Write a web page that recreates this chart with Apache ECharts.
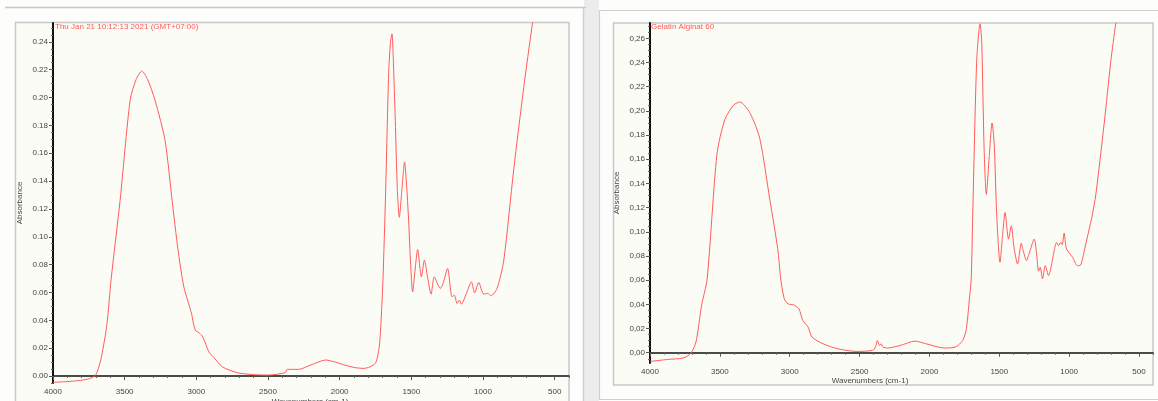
<!DOCTYPE html>
<html>
<head>
<meta charset="utf-8">
<script src="https://cdn.jsdelivr.net/npm/echarts@6/dist/echarts.min.js"></script>
<style>html,body{margin:0;padding:0;background:#fdfdfb;}#c{width:1158px;height:401px;}</style>
</head>
<body>
<div id="c"></div>
<script>
// ---- Left spectrum ----
const leftWave = [4000,3900,3800,3750,3702,3662,3623,3595,3532,3462,3420,3380,3340,3288,3218,3169,3127,3087,3034,3008,2980,2954,2913,2874,2820,2713,2600,2499,2380,2366,2286,2200,2098,2030,1965,1890,1831,1752,1724,1711,1698,1680,1658,1645,1635,1625,1612,1598,1584,1565,1547,1535,1519,1505,1491,1475,1456,1430,1409,1385,1362,1340,1298,1279,1247,1216,1200,1181,1165,1151,1116,1081,1058,1030,995,967,944,902,855,786,716,657,600,500];
const leftAbs = [-0.0045,-0.004,-0.003,-0.002,0.0007,0.0138,0.038,0.069,0.126,0.198,0.213,0.219,0.213,0.198,0.169,0.126,0.09,0.064,0.045,0.033,0.031,0.028,0.0174,0.0129,0.0067,0.0024,0.001,0.0007,0.0024,0.0048,0.0048,0.008,0.0115,0.01,0.0079,0.006,0.0055,0.009,0.021,0.04,0.069,0.13,0.218,0.24,0.2457,0.225,0.1836,0.135,0.114,0.135,0.1537,0.14,0.112,0.08,0.0604,0.075,0.0908,0.0712,0.0832,0.07,0.0588,0.0712,0.0629,0.0665,0.0772,0.0569,0.0581,0.0521,0.0545,0.0516,0.0593,0.0676,0.0597,0.0672,0.0588,0.0593,0.0576,0.0629,0.0832,0.148,0.207,0.2517,0.29,0.35];

// ---- Right spectrum ----
const rightWave = [4000,3868,3764,3710,3671,3631,3591,3521,3464,3400,3357,3286,3214,3143,3086,3064,3039,3012,2973,2934,2907,2868,2841,2762,2657,2525,2407,2386,2373,2357,2346,2333,2301,2209,2104,2025,1893,1814,1762,1736,1714,1701,1690,1662,1638,1626,1609,1593,1571,1552,1536,1519,1495,1476,1459,1434,1414,1395,1369,1343,1329,1305,1286,1250,1233,1219,1207,1191,1171,1148,1107,1091,1076,1059,1050,1036,1019,976,941,917,881,838,809,750,702,667,620,550];
const rightAbs = [-0.0072,-0.0055,-0.0044,-0.0008,0.0088,0.039,0.061,0.164,0.193,0.205,0.2073,0.1986,0.177,0.127,0.086,0.061,0.0446,0.0404,0.0396,0.0363,0.0267,0.0212,0.013,0.0074,0.0033,0.0011,0.0019,0.0047,0.0101,0.006,0.0074,0.0047,0.0039,0.006,0.0096,0.0074,0.0039,0.0047,0.0101,0.0198,0.0446,0.061,0.115,0.241,0.272,0.258,0.170,0.131,0.164,0.190,0.172,0.115,0.0748,0.098,0.116,0.094,0.105,0.0872,0.0734,0.0905,0.0844,0.0762,0.0822,0.094,0.0817,0.0674,0.0707,0.061,0.072,0.0638,0.0844,0.0913,0.0885,0.0913,0.0893,0.099,0.0858,0.079,0.072,0.0726,0.090,0.112,0.131,0.189,0.241,0.272,0.31,0.36];

// ---- Tick labels ----
const xLabels = [4000,3500,3000,2500,2000,1500,1000,500];
const yLabelsLeft = [0,0.02,0.04,0.06,0.08,0.10,0.12,0.14,0.16,0.18,0.20,0.22,0.24];
const yLabelsRight = [0,0.02,0.04,0.06,0.08,0.10,0.12,0.14,0.16,0.18,0.20,0.22,0.24,0.26];
const leftTitle = 'Thu Jan 21 10:12:13 2021 (GMT+07:00)';
const rightTitle = 'Gelatin Alginat 60';
const xName = 'Wavenumbers (cm-1)';
const yName = 'Absorbance';

const FONT = 'Liberation Sans';
const RED = '#ff5a5a';

function minorTicks(lo, hi, step) {
  const out = [];
  const n0 = Math.ceil(lo / step - 1e-9), n1 = Math.floor(hi / step + 1e-9);
  for (let i = n0; i <= n1; i++) out.push(+(i * step).toFixed(6));
  return out;
}

const L = {min: -0.005, max: 0.2535};
const R = {min: -0.0085, max: 0.2727};

function xAxes(gi) {
  return [
    {gridIndex: gi, type: 'value', inverse: true, min: 400, max: 4000, interval: 100,
     axisLine: {show: true, lineStyle: {color: '#111', width: 1.5}},
     axisTick: {show: true, length: 2, lineStyle: {color: '#666'}},
     axisLabel: {customValues: xLabels, fontSize: 8, color: '#444', fontFamily: FONT, margin: 5,
                 formatter: v => String(Math.round(v))},
     splitLine: {show: false}},
    {gridIndex: gi, type: 'value', inverse: true, min: 400, max: 4000, position: 'bottom',
     axisLine: {show: false},
     axisTick: {show: true, length: 4, customValues: xLabels, lineStyle: {color: '#555'}},
     axisLabel: {show: false}, splitLine: {show: false}}
  ];
}
function yAxes(gi, rng, labels, comma) {
  return [
    {gridIndex: gi, type: 'value', min: rng.min, max: rng.max,
     axisLine: {show: true, lineStyle: {color: '#111', width: 2}},
     axisTick: {show: true, length: 2, customValues: minorTicks(rng.min, rng.max, 0.005), lineStyle: {color: '#666'}},
     axisLabel: {customValues: labels, fontSize: 8, color: '#444', fontFamily: FONT, margin: 5,
                 formatter: v => { const s = Math.abs(v) < 1e-9 ? '0.00' : v.toFixed(2); return comma ? s.replace('.', ',') : s; }},
     splitLine: {show: false}},
    {gridIndex: gi, type: 'value', min: rng.min, max: rng.max, position: 'left',
     axisLine: {show: false},
     axisTick: {show: true, length: 4, customValues: labels, lineStyle: {color: '#555'}},
     axisLabel: {show: false}, splitLine: {show: false}}
  ];
}

const chart = echarts.init(document.getElementById('c'), null, {renderer: 'canvas'});
const option = {
  backgroundColor: '#fdfdfb',
  animation: false,
  graphic: [
    {type: 'rect', z: -10, shape: {x: 584, y: 0, width: 15, height: 401}, style: {fill: '#ececec'}},
    {type: 'line', z: -5, shape: {x1: 5, y1: 7.5, x2: 586, y2: 7.5}, style: {stroke: '#c8c8c8', lineWidth: 1.5}},
    {type: 'line', z: -5, shape: {x1: 583.5, y1: 7.5, x2: 583.5, y2: 401}, style: {stroke: '#d0d0d0', lineWidth: 1.5}},
    {type: 'rect', z: -6, shape: {x: 15.5, y: 22.5, width: 553.5, height: 400}, style: {fill: '#fcfcf6', stroke: '#c8c8c8', lineWidth: 1.5}},
    {type: 'rect', z: -7, shape: {x: 599.5, y: 10.5, width: 600, height: 389}, style: {fill: '#fdfdfb', stroke: '#cfcfcf', lineWidth: 1.2}},
    {type: 'rect', z: -6, shape: {x: 613.5, y: 23, width: 539.5, height: 362}, style: {fill: '#fcfcf6', stroke: '#c8c8c8', lineWidth: 1.5}},
    {type: 'text', z: 10, x: 55, y: 27, style: {text: leftTitle, fill: RED, font: '8px ' + FONT, verticalAlign: 'middle'}},
    {type: 'text', z: 10, x: 651, y: 27, style: {text: rightTitle, fill: RED, font: '8px ' + FONT, verticalAlign: 'middle'}},
    {type: 'text', z: 10, x: 20, y: 203, rotation: Math.PI / 2, style: {text: yName, fill: '#444', font: '8px ' + FONT, align: 'center', verticalAlign: 'middle'}},
    {type: 'text', z: 10, x: 617, y: 193, rotation: Math.PI / 2, style: {text: yName, fill: '#444', font: '8px ' + FONT, align: 'center', verticalAlign: 'middle'}},
    {type: 'text', z: 10, x: 870, y: 381, style: {text: xName, fill: '#444', font: '8px ' + FONT, align: 'center', verticalAlign: 'middle'}},
    {type: 'text', z: 10, x: 310, y: 402, style: {text: xName, fill: '#444', font: '8px ' + FONT, align: 'center', verticalAlign: 'middle'}}
  ],
  grid: [
    {left: 53, top: 23, right: 589, bottom: 18, show: false},
    {left: 650, top: 23, right: 5, bottom: 38, show: false}
  ],
  xAxis: [...xAxes(0), ...xAxes(1)],
  yAxis: [...yAxes(0, L, yLabelsLeft, false), ...yAxes(1, R, yLabelsRight, true)],
  series: [
    {type: 'line', xAxisIndex: 0, yAxisIndex: 0, data: leftWave.map((w, i) => [w, leftAbs[i]]),
     showSymbol: false, smooth: 0.25, clip: true, lineStyle: {color: RED, width: 1}},
    {type: 'line', xAxisIndex: 2, yAxisIndex: 2, data: rightWave.map((w, i) => [w, rightAbs[i]]),
     showSymbol: false, smooth: 0.25, clip: true, lineStyle: {color: RED, width: 1}}
  ]
};
chart.setOption(option);
</script>
</body>
</html>
